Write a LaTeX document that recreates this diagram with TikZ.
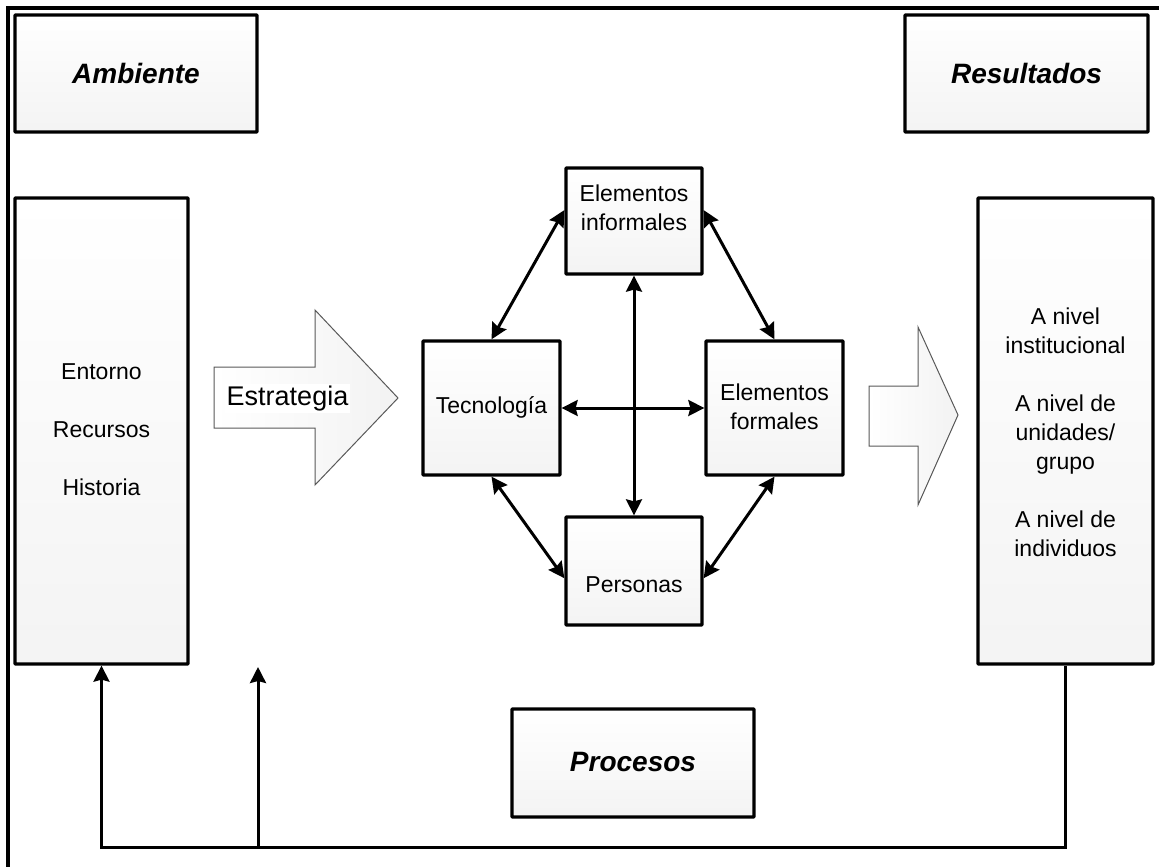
\documentclass[tikz,border=0pt]{standalone}
\usepackage{fontspec}
\setmainfont{Liberation Sans}
\usetikzlibrary{arrows.meta,calc}
\begin{document}
\begin{tikzpicture}[x=1pt,y=-1pt,
  box/.style={draw, line width=3.3pt, top color=white, bottom color=gray!9, inner sep=0pt, rounded corners=0.8pt},
  txt/.style={font=\fontsize{23}{29}\selectfont, align=center, inner sep=0pt},
  ttl/.style={font=\fontsize{28}{32}\selectfont\bfseries\itshape, inner sep=0pt},
  conn/.style={line width=3pt, {Stealth[length=16pt,width=16pt,inset=2pt]}-{Stealth[length=16pt,width=16pt,inset=2pt]}},
  fb/.style={line width=3pt, -{Stealth[length=16pt,width=16pt,inset=2pt]}},
  bigarrow/.style={draw=gray!70!black, line width=1pt, left color=white, right color=gray!10}]
\useasboundingbox (0,0) rectangle (1159,867);
% outer frame
\draw[line width=3.3pt] (8,867) -- (8,8) -- (1159,8);
% title boxes
\node[box, minimum width=242pt, minimum height=117pt] (amb) at (136,73.5) {};
\node[ttl] (ambt) at (136,73.5) {Ambiente};
\node[box, minimum width=243pt, minimum height=117pt] (res) at (1026.5,73.5) {};
\node[ttl] (rest) at (1026.5,73.5) {Resultados};
\node[box, minimum width=242pt, minimum height=108pt] (proc) at (633,763) {};
\node[ttl] (proct) at (633,762) {Procesos};
% tall boxes
\node[box, minimum width=173pt, minimum height=466pt] (env) at (101.5,431) {};
\node[txt] (envt) at (101.5,430) {Entorno\\[29pt]Recursos\\[29pt]Historia};
\node[box, minimum width=175pt, minimum height=466pt] (out) at (1065.5,431) {};
\node[txt] (outt) at (1065.5,432) {A nivel\\institucional\\[29pt]A nivel de\\unidades/\\grupo\\[29pt]A nivel de\\individuos};
% big arrows
\draw[bigarrow] (214,367) -- (315,367) -- (315,310) -- (398,398) -- (315,485) -- (315,428) -- (214,428) -- cycle;
\node[fill=white, inner sep=2pt, font=\fontsize{27}{30}\selectfont] (estr) at (287.5,398.5) {Estrategia};
\draw[bigarrow] (869,386) -- (918,386) -- (918,327) -- (958,415) -- (918,505) -- (918,446) -- (869,446) -- cycle;
% centre boxes
\node[box, minimum width=136pt, minimum height=106pt] (ei) at (634,221) {};
\node[txt] (eit) at (634,207.5) {Elementos\\informales};
\node[box, minimum width=137pt, minimum height=134pt] (tec) at (491.5,408) {};
\node[txt] (tect) at (491.5,407) {Tecnología};
\node[box, minimum width=137pt, minimum height=134pt] (ef) at (774.5,408) {};
\node[txt] (eft) at (774.5,406.5) {Elementos\\formales};
\node[box, minimum width=136pt, minimum height=108pt] (per) at (634,571) {};
\node[txt] (pert) at (634,585) {Personas};
% connectors
\draw[conn] ($(ei.north west)!0.4!(ei.south west)$) -- (tec.north);
\draw[conn] ($(ei.north east)!0.4!(ei.south east)$) -- (ef.north);
\draw[conn] (tec.south) -- ($(per.north west)!0.565!(per.south west)$);
\draw[conn] (ef.south) -- ($(per.north east)!0.565!(per.south east)$);
\draw[conn] (tec.east) -- (ef.west);
\draw[conn] (ei.south) -- (per.north);
% feedback
\coordinate (br) at (258,846);
\coordinate (brend) at (258,667);
\draw[fb] (out.south) -- ++(0,182) -| (env.south);
\draw[fb] (br) -- (brend);
\end{tikzpicture}
\end{document}
